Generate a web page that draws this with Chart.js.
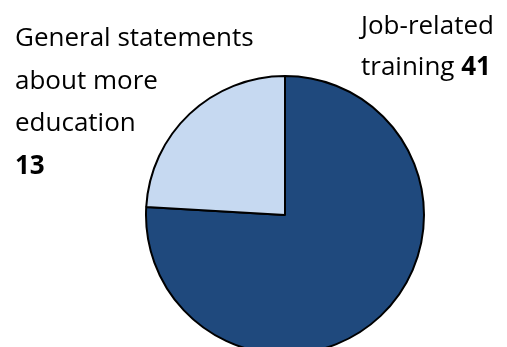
<!DOCTYPE html>
<html>
<head>
<meta charset="utf-8">
<script src="https://cdn.jsdelivr.net/npm/chart.js@4"></script>
<style>
  html, body { margin: 0; padding: 0; background: #ffffff; }
  #wrap { width: 507px; height: 347px; }
</style>
</head>
<body>
<div id="wrap"><canvas id="trainingPie" width="507" height="347"></canvas></div>
<script>
// Slices, in drawing order (clockwise from 12 o'clock)
const categories = ['Job-related training', 'General statements about more education'];
const values = [41, 13];
const sliceColors = ['#1F497D', '#C6D9F1'];

// Wrapped caption lines for each slice; the value is appended in bold
const captionLines = [
    ['Job-related', 'training '],
    ['General statements', 'about more', 'education', '']
];

const FONT = '"Open Sans", "Noto Sans", sans-serif';

/**
 * Draws the slice captions outside the pie
 */
const captionPlugin = {
    id: 'captions',
    afterDraw(chart) {
        const ctx = chart.ctx;
        ctx.save();
        ctx.fillStyle = '#000000';
        ctx.textBaseline = 'alphabetic';

        // position of each caption block: [left x, first baseline, line step]
        const blocks = [
            [361, 34, 41],
            [15, 46, 42.5]
        ];

        captionLines.forEach((lines, i) => {
            const [x, y0, step] = blocks[i];
            lines.forEach((line, j) => {
                const y = y0 + j * step;
                ctx.font = '400 26px ' + FONT;
                ctx.fillText(line, x, y);
                if (j === lines.length - 1) {
                    const w = ctx.measureText(line).width;
                    ctx.font = '700 26px ' + FONT;
                    ctx.fillText(String(values[i]), x + w, y);
                }
            });
        });
        ctx.restore();
    }
};

new Chart(document.getElementById('trainingPie'), {
    type: 'pie',
    data: {
        labels: categories,
        datasets: [{
            data: values,
            backgroundColor: sliceColors,
            borderColor: '#000000',
            borderWidth: 2,
            borderAlign: 'center'
        }]
    },
    options: {
        responsive: false,
        animation: false,
        radius: 139,
        layout: {
            padding: { left: 63, top: 83, right: 0, bottom: 0 }
        },
        plugins: {
            legend: { display: false },
            tooltip: { enabled: false }
        }
    },
    plugins: [captionPlugin]
});
</script>
</body>
</html>
